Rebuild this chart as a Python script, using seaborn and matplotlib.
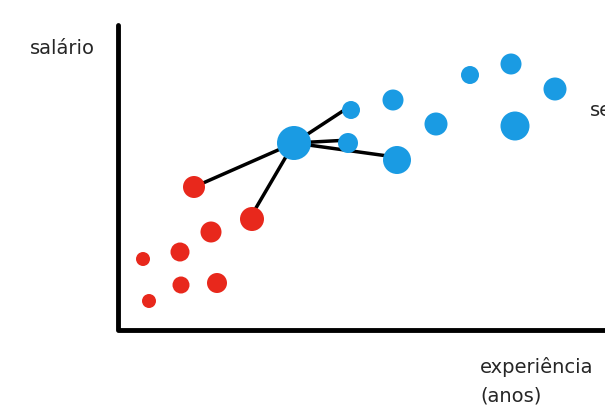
import matplotlib.pyplot as plt
import seaborn as sns
import pandas as pd

# pixel-space sketch of a KNN illustration
red_x = [194, 252, 211, 180, 143, 181, 217, 149]
red_y = [187, 219, 232, 252, 259, 285, 283, 301]
red_d = [22, 24, 21, 19, 14, 17, 20, 14]

blue_x = [294, 351, 348, 393, 397, 436, 470, 511, 555, 515]
blue_y = [143, 110, 143, 100, 160, 124, 75, 64, 89, 126]
blue_d = [34, 18, 20, 21, 28, 23, 18, 21, 23, 29]

query = (294, 143)
neigh_x = [194, 253, 352, 350, 395]
neigh_y = [187, 213, 105, 140, 157]

df = pd.DataFrame({
    "x": red_x + blue_x,
    "y": red_y + blue_y,
    "d": red_d + blue_d,
    "cls": ["r"] * len(red_x) + ["b"] * len(blue_x),
})

sns.set_style("white")
fig = plt.figure(figsize=(6.05, 4.09), dpi=100)
ax = fig.add_axes([0, 0, 1, 1])
ax.set_xlim(0, 605)
ax.set_ylim(409, 0)
ax.axis("off")

for nx, ny in zip(neigh_x, neigh_y):
    ax.plot([query[0], nx], [query[1], ny], color="black", lw=2.5, zorder=1)

sizes = [(d * 0.72) ** 2 for d in df["d"]]
sns.scatterplot(data=df, x="x", y="y", hue="cls", palette={"r": "#e8281c", "b": "#1a9be3"},
                s=sizes, linewidth=0, legend=False, ax=ax, zorder=2)

ax.plot([118, 118, 605], [25, 330, 330], color="black", lw=3.5, zorder=0)
ax.text(30, 48, "salário", fontsize=14, va="center")
ax.text(480, 367, "experiência", fontsize=14, va="center")
ax.text(480, 396, "(anos)", fontsize=14, va="center")
ax.text(590, 110, "se", fontsize=14, va="center")

fig.savefig("out.png", dpi=100)
